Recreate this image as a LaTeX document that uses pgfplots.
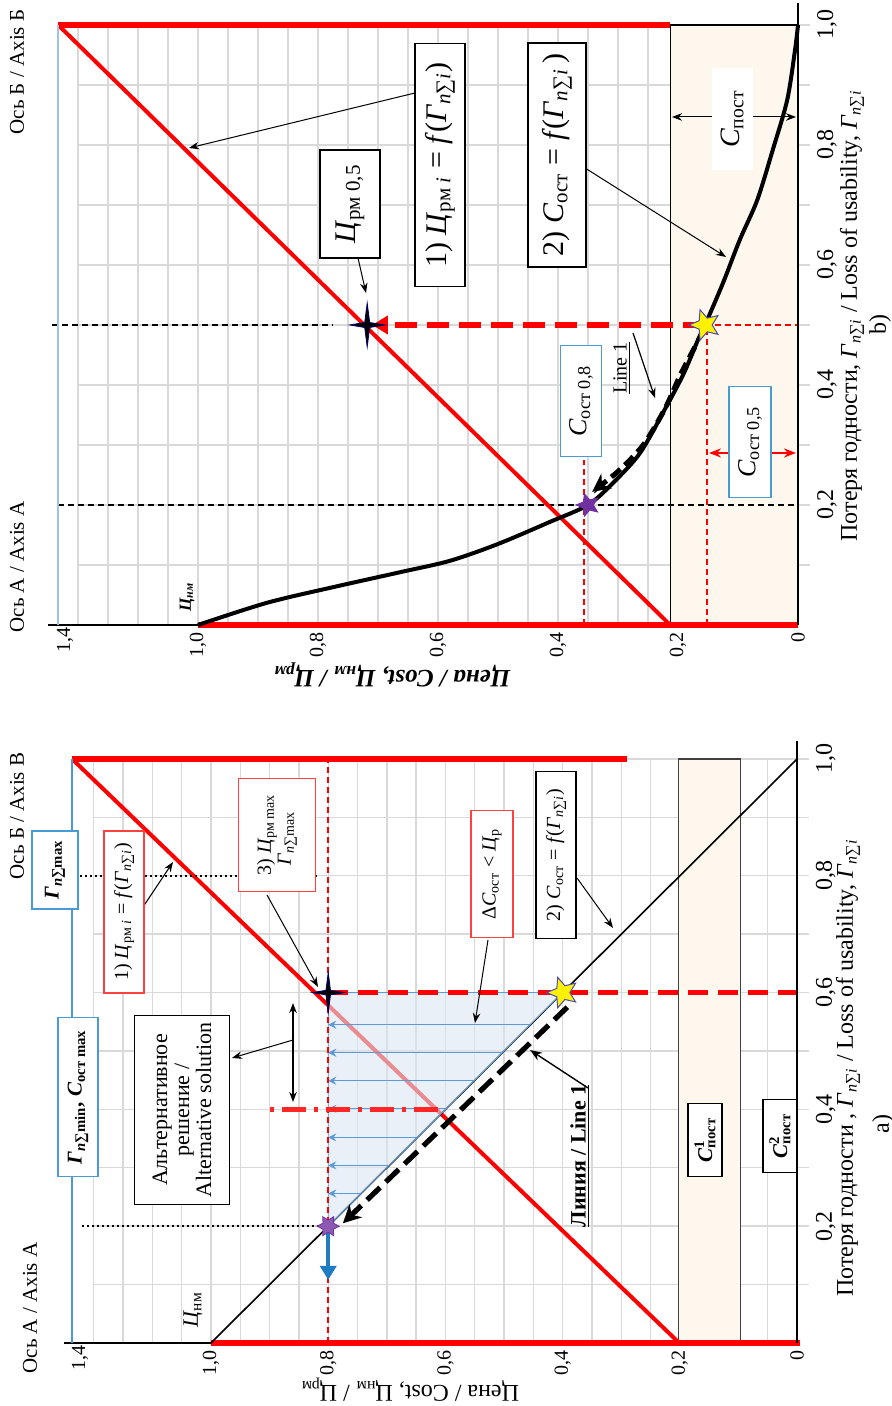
\documentclass[border=0pt]{standalone}
\usepackage{fontspec}
\setmainfont{Liberation Serif}
\usepackage{pgfplots}
\pgfplotsset{compat=1.18}
\usetikzlibrary{arrows.meta}
\definecolor{gridc}{HTML}{D9D9D9}
\definecolor{beige}{HTML}{FDF7EE}
\definecolor{boxblue}{HTML}{4A9BD5}
\definecolor{axblue}{HTML}{9DC3E6}
\definecolor{triblue}{HTML}{DCE6F2}
\definecolor{arrblue}{HTML}{5B9BD5}
\definecolor{bluearrow}{HTML}{1F7BC4}
\definecolor{purp}{HTML}{7030A0}
\definecolor{redbox}{HTML}{FF4040}
\newcommand{\fs}[1]{\fontsize{#1}{#1}\selectfont}
\newcommand{\Gs}{\textit{Г}\textsubscript{\textit{n}∑\textit{i}}}
\pgfdeclareplotmark{starfive}{%
 \pgfpathmoveto{\pgfpointpolar{180}{\pgfplotmarksize}}%
 \pgfpathlineto{\pgfpointpolar{216}{0.45\pgfplotmarksize}}%
 \pgfpathlineto{\pgfpointpolar{252}{\pgfplotmarksize}}%
 \pgfpathlineto{\pgfpointpolar{288}{0.45\pgfplotmarksize}}%
 \pgfpathlineto{\pgfpointpolar{324}{\pgfplotmarksize}}%
 \pgfpathlineto{\pgfpointpolar{0}{0.45\pgfplotmarksize}}%
 \pgfpathlineto{\pgfpointpolar{36}{\pgfplotmarksize}}%
 \pgfpathlineto{\pgfpointpolar{72}{0.45\pgfplotmarksize}}%
 \pgfpathlineto{\pgfpointpolar{108}{\pgfplotmarksize}}%
 \pgfpathlineto{\pgfpointpolar{144}{0.45\pgfplotmarksize}}%
 \pgfpathclose\pgfusepathqfillstroke}
\pgfdeclareplotmark{starfour}{%
 \pgfpathmoveto{\pgfpointpolar{0}{0.8\pgfplotmarksize}}%
 \pgfpathlineto{\pgfpointpolar{45}{0.16\pgfplotmarksize}}%
 \pgfpathlineto{\pgfpointpolar{90}{\pgfplotmarksize}}%
 \pgfpathlineto{\pgfpointpolar{135}{0.16\pgfplotmarksize}}%
 \pgfpathlineto{\pgfpointpolar{180}{0.8\pgfplotmarksize}}%
 \pgfpathlineto{\pgfpointpolar{225}{0.16\pgfplotmarksize}}%
 \pgfpathlineto{\pgfpointpolar{270}{\pgfplotmarksize}}%
 \pgfpathlineto{\pgfpointpolar{315}{0.16\pgfplotmarksize}}%
 \pgfpathclose\pgfusepathqfillstroke}
\pgfdeclareplotmark{starsix}{%
 \pgfpathmoveto{\pgfpointpolar{0}{\pgfplotmarksize}}%
 \pgfpathlineto{\pgfpointpolar{30}{0.55\pgfplotmarksize}}%
 \pgfpathlineto{\pgfpointpolar{60}{\pgfplotmarksize}}%
 \pgfpathlineto{\pgfpointpolar{90}{0.55\pgfplotmarksize}}%
 \pgfpathlineto{\pgfpointpolar{120}{\pgfplotmarksize}}%
 \pgfpathlineto{\pgfpointpolar{150}{0.55\pgfplotmarksize}}%
 \pgfpathlineto{\pgfpointpolar{180}{\pgfplotmarksize}}%
 \pgfpathlineto{\pgfpointpolar{210}{0.55\pgfplotmarksize}}%
 \pgfpathlineto{\pgfpointpolar{240}{\pgfplotmarksize}}%
 \pgfpathlineto{\pgfpointpolar{270}{0.55\pgfplotmarksize}}%
 \pgfpathlineto{\pgfpointpolar{300}{\pgfplotmarksize}}%
 \pgfpathlineto{\pgfpointpolar{330}{0.55\pgfplotmarksize}}%
 \pgfpathclose\pgfusepathqfillstroke}
\pgfplotsset{myax/.style={scale only axis, x dir=reverse,
  xmin=-0.02, xmax=1.2, ymin=0, ymax=1, clip=false,
  axis line style={draw=none}, tick style={draw=none},
  xtick={0,0.2,0.4,0.6,0.8,1}, xticklabels={0,{0,2},{0,4},{0,6},{0,8},{1,0}},
  minor xtick={0.05,0.1,0.15,0.25,0.3,0.35,0.45,0.5,0.55,0.65,0.7,0.75,0.85,0.9,0.95,1.05,1.1,1.15,1.2},
  ytick={0.2,0.4,0.6,0.8,1}, yticklabels={{0,2},{0,4},{0,6},{0,8},{1,0}},
  minor ytick={0.1,0.3,0.5,0.7,0.9},
  grid=both, major grid style={gridc, line width=0.7pt}, minor grid style={gridc, line width=0.7pt},
  yticklabel pos=right,
  xticklabel style={font=\fs{10}, rotate=90, anchor=east},
  yticklabel style={font=\fs{12}, rotate=90, anchor=north}}}
\begin{document}
\begin{tikzpicture}
\path[use as bounding box] (0,0) rectangle (445.5pt,703pt);
% ---------------- panel b (top) ----------------
\begin{axis}[myax, at={(39pt,390.5pt)}, anchor=south west, width=366pt, height=300pt]
\addplot[fill=beige, draw=black, line width=0.6pt] coordinates {(0,0)(0.213,0)(0.213,1)(0,1)(0,0)};
\addplot[black, line width=0.7pt, dash pattern=on 3pt off 2pt] coordinates {(1.243,0.5)(0.775,0.5)};
\addplot[black, line width=0.7pt, dash pattern=on 3pt off 2pt] coordinates {(1.233,0.2)(0.005,0.2)};
\addplot[red, line width=0.7pt, dash pattern=on 3pt off 2pt] coordinates {(0.155,0.5)(0,0.5)};
\addplot[red, line width=0.7pt, dash pattern=on 3pt off 2pt] coordinates {(0.152,0)(0.152,0.5)};
\addplot[red, line width=0.7pt, dash pattern=on 3pt off 2pt] coordinates {(0.357,0)(0.357,0.275)};
\addplot[red, line width=2pt] coordinates {(0.213,0)(1.233,1)};
\addplot[red, line width=2.8pt] coordinates {(1.233,1)(0.213,1)};
\addplot[red, line width=2.8pt] coordinates {(1.0,0)(0,0)};
\addplot[black, line width=2pt, smooth] coordinates {(1.0,0)(0.885,0.037)(0.775,0.063)(0.663,0.088)(0.58,0.107)(0.5,0.135)(0.413,0.172)(0.35,0.2)(0.308,0.237)(0.263,0.287)(0.22,0.363)(0.19,0.42)(0.166,0.477)(0.155,0.5)(0.125,0.57)(0.097,0.642)(0.068,0.708)(0.042,0.792)(0.018,0.875)(0.005,0.958)(0,1.0)};
\addplot[black, line width=2.5pt, dash pattern=on 6pt off 3pt, -{Stealth[length=9pt,width=9pt]}, smooth] coordinates {(0.172,0.463)(0.196,0.417)(0.222,0.36)(0.258,0.3)(0.3,0.256)(0.343,0.222)};
\addplot[red, line width=2.6pt, dash pattern=on 11pt off 5pt, -{Triangle[length=8pt,width=9pt]}] coordinates {(0.155,0.5)(0.71,0.5)};
\addplot[black, line width=1pt] coordinates {(1.25,0)(1.0,0)};
\addplot[black, line width=1.2pt] coordinates {(0,0)(0,1.037)};
\addplot[axblue, line width=0.8pt] coordinates {(1.233,0)(1.233,1)};
\addplot[only marks, mark=starfour, mark size=11pt, mark options={fill=black, draw=blue!40!black, line width=0.4pt}] coordinates {(0.718,0.5)};
\addplot[only marks, mark=starfive, mark size=6pt, mark options={fill=purp, draw=purp}] coordinates {(0.35,0.2)};
\addplot[only marks, mark=starfive, mark size=8pt, mark options={fill=yellow, draw=gray!60!blue, line width=0.5pt}] coordinates {(0.155,0.5)};
\end{axis}
% ---------------- panel a (bottom) ----------------
\begin{axis}[myax, at={(46.9pt,31.5pt)}, anchor=south west, width=357.5pt, height=292pt]
\addplot[fill=beige, draw=black!75, line width=0.6pt] coordinates {(0.097,0)(0.203,0)(0.203,1)(0.097,1)(0.097,0)};
\addplot[red, line width=2pt] coordinates {(0.201,0)(1.237,1)};
\addplot[red, line width=2.8pt] coordinates {(1.237,1)(0.29,1)};
\addplot[red, line width=2.8pt] coordinates {(1.0,0)(-0.005,0)};
\addplot[black, line width=0.8pt] coordinates {(1.0,0)(0,1)};
\addplot[fill=triblue, fill opacity=0.6, draw=arrblue, line width=0.4pt] coordinates {(0.8,0.6)(0.8,0.2)(0.4,0.6)(0.8,0.6)};
\addplot[arrblue, line width=0.5pt, -{Stealth[length=4pt,width=4pt]}, quiver={u=\thisrow{u}, v=\thisrow{v}}] table {
x y u v
0.455 0.545 0.345 0
0.503 0.497 0.297 0
0.551 0.449 0.249 0
0.599 0.401 0.201 0
0.648 0.352 0.152 0
0.696 0.304 0.104 0
0.744 0.256 0.056 0
};
\addplot[red, line width=0.8pt, dash pattern=on 3pt off 2pt] coordinates {(0.8,0)(0.8,1)};
\addplot[red, line width=2.6pt, dash pattern=on 10pt off 5pt] coordinates {(0.8,0.6)(0,0.6)};
\addplot[red!85!white, line width=2.6pt, dash pattern=on 2pt off 4pt on 12pt off 4pt] coordinates {(0.9,0.4)(0.6,0.4)};
\addplot[black, line width=0.9pt, dash pattern=on 1pt off 1.5pt] coordinates {(1.223,0.8)(0.817,0.8)};
\addplot[black, line width=0.9pt, dash pattern=on 1pt off 1.5pt] coordinates {(1.22,0.2)(0.807,0.2)};
\addplot[black, line width=2.6pt, dash pattern=on 9pt off 4pt, -{Stealth[length=9pt,width=9pt]}] coordinates {(0.392,0.575)(0.775,0.205)};
\addplot[black, line width=1pt] coordinates {(1.25,0)(1.0,0)};
\addplot[black, line width=1.2pt] coordinates {(0,0)(0,1.03)};
\addplot[boxblue, line width=0.8pt] coordinates {(1.237,0)(1.237,1)};
\addplot[bluearrow, line width=1.8pt, -{Triangle[length=7pt,width=8pt]}] coordinates {(0.8,0.2)(0.8,0.108)};
\addplot[only marks, mark=starfour, mark size=10pt, mark options={fill=black, draw=blue!40!black, line width=0.4pt}] coordinates {(0.8,0.6)};
\addplot[only marks, mark=starsix, mark size=5.5pt, mark options={fill=purp!80, draw=purp}] coordinates {(0.8,0.2)};
\addplot[only marks, mark=starfive, mark size=8pt, mark options={fill=yellow, draw=gray!60!blue, line width=0.5pt}] coordinates {(0.4,0.6)};
\end{axis}
% ---------------- annotations (pixel frame) ----------------
\begin{scope}[x=0.5pt, y=-0.5pt, shift={(0pt,703pt)}]
\tikzset{bx/.style={draw, fill=white, rotate=90, inner sep=2pt, align=center, line width=0.6pt}}
% panel b
\node[rotate=90, font=\fs{10}] at (65,640) {1,4};
\node[rotate=90, font=\fs{10.5}] at (17,72) {Ось Б / Axis Б};
\node[rotate=90, font=\fs{10.5}] at (17,567) {Ось А / Axis A};
\node[rotate=90, font=\fs{8.5}\bfseries\itshape] at (187,597) {Ц\textsubscript{нм}};
\draw[-{Stealth[length=5pt]}, line width=0.5pt] (358,258) -- (366,293);
\node[bx, minimum width=54pt, minimum height=30pt, font=\fs{15}] at (350,204) {\textit{Ц}\textsubscript{рм 0,5}};
\draw[-{Stealth[length=5pt]}, line width=0.5pt] (415,93) -- (189,148);
\node[bx, minimum width=121.5pt, minimum height=25pt, font=\fs{15}] at (440,165) {1)\ \textit{Ц}\textsubscript{рм \textit{i}} = \textit{f}(\Gs)};
\draw[-{Stealth[length=5pt]}, line width=0.5pt] (585,168) -- (726,257);
\node[bx, minimum width=112pt, minimum height=29pt, font=\fs{15}] at (557,155) {2)\ \textit{C}\textsubscript{ост} = \textit{f}(\Gs\,)};
\draw[{Stealth[length=5pt]}-{Stealth[length=5pt]}, line width=0.5pt] (672,117) -- (796,117);
\node[fill=white, rotate=90, minimum width=51pt, minimum height=20.5pt, font=\fs{14}] at (732,119) {\textit{C}\textsubscript{пост}};
\node[bx, draw=boxblue, minimum width=55.5pt, minimum height=20.5pt, font=\fs{13}] at (581,401) {\textit{C}\textsubscript{ост 0,8}};
\draw[red, line width=1.2pt, {Stealth[length=6pt]}-{Stealth[length=6pt]}] (709,453) -- (796,453);
\node[bx, draw=boxblue, minimum width=55.5pt, minimum height=21pt, font=\fs{13}] at (750,442) {\textit{C}\textsubscript{ост 0,5}};
\node[rotate=90, font=\fs{10}] at (622,368) {\underline{Line 1}};
\draw[-{Stealth[length=5pt]}, line width=0.6pt] (633,333) -- (655,398);
\node[rotate=180, font=\fs{12.5}\bfseries\itshape] at (392,675) {Цена / Cost, Ц\textsubscript{нм} / Ц\textsubscript{рм}};
\node[rotate=90, font=\fs{12}] at (852,316) {Потеря годности, \Gs{} / Loss of usability, \Gs};
\node[rotate=90, font=\fs{12}] at (880,325) {b)};
% panel a
\node[rotate=90, font=\fs{10}] at (80,1358) {1,4};
\node[rotate=90, font=\fs{10.5}] at (17,816) {Ось Б / Axis B};
\node[rotate=90, font=\fs{10.5}] at (30,1308) {Ось А / Axis A};
\node[rotate=90, font=\fs{11}] at (193,1310) {\textit{Ц}\textsubscript{нм}};
\node[bx, draw=boxblue, minimum width=39pt, minimum height=23pt, font=\fs{10.5}] at (55,870) {\textbf{\textit{Г}\textsubscript{\textit{n}∑max}}};
\node[bx, draw=boxblue, minimum width=79.5pt, minimum height=20pt, font=\fs{10.5}] at (78,1097) {\textbf{\textit{Г}\textsubscript{\textit{n}∑min}, \textit{C}\textsubscript{ост max}}};
\draw[-{Stealth[length=5pt]}, line width=0.5pt] (141,910) -- (173,862);
\node[bx, draw=redbox, minimum width=81pt, minimum height=20pt, font=\fs{10}] at (124,912) {1) \textit{Ц}\textsubscript{рм \textit{i}} = \textit{f}(\Gs)};
\draw[-{Stealth[length=5pt]}, line width=0.5pt] (267,895) -- (318,987);
\node[bx, draw=redbox, minimum width=56.5pt, minimum height=38.5pt, font=\fs{10}, align=left] at (277,835) {3) \textit{Ц}\textsubscript{рм max}\\ \ \ \textit{Г}\textsubscript{\textit{n}∑max}};
\draw[{Stealth[length=5pt]}-{Stealth[length=5pt]}, line width=0.8pt] (293,1003) -- (293,1102);
\draw[-{Stealth[length=5pt]}, line width=0.5pt] (293,1040) -- (232,1058);
\node[bx, minimum width=94.5pt, minimum height=47.5pt, font=\fs{11}] at (182,1110) {Альтернативное\\ решение /\\ Alternative solution};
\draw[-{Stealth[length=5pt]}, line width=0.5pt] (488,940) -- (475,1023);
\node[bx, draw=redbox, minimum width=63.5pt, minimum height=21pt, font=\fs{10}] at (492,874) {Δ\textit{C}\textsubscript{ост} < \textit{Ц}\textsubscript{р}};
\draw[-{Stealth[length=5pt]}, line width=0.5pt] (577,878) -- (613,928);
\node[bx, minimum width=83.5pt, minimum height=20pt, font=\fs{10}] at (556,855) {2)\ \textit{C}\textsubscript{ост} = \textit{f}(\Gs)};
\draw[-{Stealth[length=6pt]}, line width=0.7pt] (588,1088) -- (530,1050);
\node[rotate=90, font=\fs{11}] at (580,1156) {\textbf{\underline{Линия / Line 1}}};
\node[bx, minimum width=36.5pt, minimum height=17pt, font=\fs{10.5}] at (705,1140) {\textbf{\textit{C}\rlap{\textsuperscript{1}}\textsubscript{пост}}};
\node[bx, minimum width=36.5pt, minimum height=17pt, font=\fs{10.5}] at (780,1136) {\textbf{\textit{C}\rlap{\textsuperscript{2}}\textsubscript{пост}}};
\node[rotate=180, font=\fs{12}] at (410,1390) {Цена / Cost, Ц\textsubscript{нм} / Ц\textsubscript{рм}};
\node[rotate=90, font=\fs{12}] at (848,1068) {Потеря годности , \Gs{} / Loss of usability, \Gs};
\node[rotate=90, font=\fs{12}] at (883,1124) {a)};
\end{scope}
\end{tikzpicture}
\end{document}
